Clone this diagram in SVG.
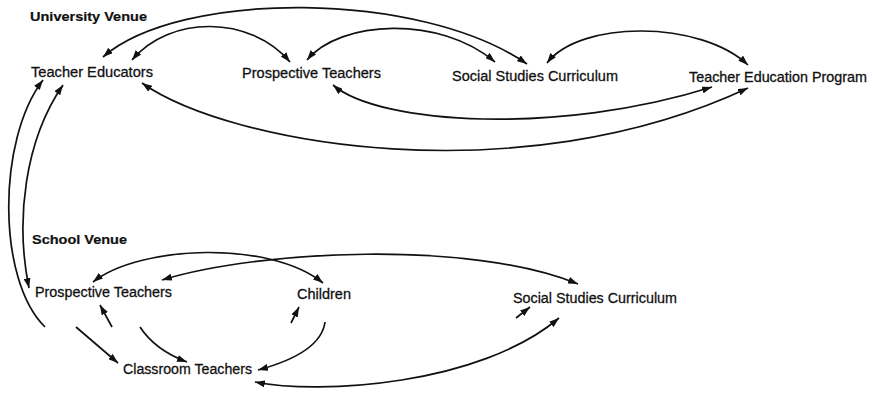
<svg xmlns="http://www.w3.org/2000/svg" width="874" height="395" viewBox="0 0 874 395">
<style>
text{font-family:"Liberation Sans",Arial,Helvetica,sans-serif;fill:#111;font-size:15.3px;stroke:#111;stroke-width:0.3}
.h{font-weight:bold;font-size:13px;stroke-width:0.2}
.c path{fill:none;stroke:#111;stroke-width:1.7;stroke-linecap:butt}
.d{marker-start:url(#ah);marker-end:url(#ah)}
.s{marker-end:url(#ah)}
</style>
<defs>
<marker id="ah" viewBox="0 0 10 7" refX="10" refY="3.5" markerUnits="userSpaceOnUse" markerWidth="10" markerHeight="7" orient="auto-start-reverse">
<path d="M0,0 L10,3.5 L0,7 Z" fill="#111"/>
</marker>
</defs>
<rect width="874" height="395" fill="#fff"/>
<g id="label-university"><text class="h" x="30" y="21" textLength="117" lengthAdjust="spacingAndGlyphs">University Venue</text></g>
<g id="label-school"><text class="h" x="32" y="244" textLength="95" lengthAdjust="spacingAndGlyphs">School Venue</text></g>
<g id="u-teacher-educators"><text x="31" y="76.5" textLength="122" lengthAdjust="spacingAndGlyphs">Teacher Educators</text></g>
<g id="u-prospective-teachers"><text x="242" y="78" textLength="139" lengthAdjust="spacingAndGlyphs">Prospective Teachers</text></g>
<g id="u-social-studies"><text x="452" y="81" textLength="166" lengthAdjust="spacingAndGlyphs">Social Studies Curriculum</text></g>
<g id="u-teacher-education-program"><text x="689" y="82" style="font-size:14.2px" textLength="178" lengthAdjust="spacingAndGlyphs">Teacher Education Program</text></g>
<g id="s-prospective-teachers"><text x="35" y="297" textLength="137" lengthAdjust="spacingAndGlyphs">Prospective Teachers</text></g>
<g id="s-children"><text x="297" y="299" textLength="54" lengthAdjust="spacingAndGlyphs">Children</text></g>
<g id="s-classroom-teachers"><text x="123" y="374" textLength="129" lengthAdjust="spacingAndGlyphs">Classroom Teachers</text></g>
<g id="s-social-studies"><text x="513" y="303" textLength="164" lengthAdjust="spacingAndGlyphs">Social Studies Curriculum</text></g>
<g id="connectors" class="c">
<path class="d" d="M103,57 C180,-10 420,-10 527,64"/>
<path class="d" d="M132,60 C170,15 250,15 290,62"/>
<path class="d" d="M307,60 C340,20 440,15 495,62"/>
<path class="d" d="M547,63 C580,20 700,20 748,65"/>
<path class="d" d="M333,85 C380,125 560,135 712,87"/>
<path class="d" d="M142,83 C230,145 520,195 748,88"/>
<path class="s" d="M45,327 C-3,280 -3,140 43,80"/>
<path class="d" d="M63,85 C25,140 15,220 29,288"/>
<path class="d" d="M93,282 C140,245 270,240 323,283"/>
<path class="d" d="M162,280 C260,250 470,240 578,284"/>
<path class="d" d="M255,382 C320,395 480,385 559,318"/>
<path class="s" d="M325,322 C322,345 295,360 258,370"/>
<path class="s" d="M76,327 L118,363"/>
<path class="s" d="M140,327 Q155,350 187,362"/>
<path class="s" d="M112,327 L100,305"/>
<path class="s" d="M291,323 L299,307"/>
<path class="s" d="M516,318 L530,307"/>
</g>
</svg>
